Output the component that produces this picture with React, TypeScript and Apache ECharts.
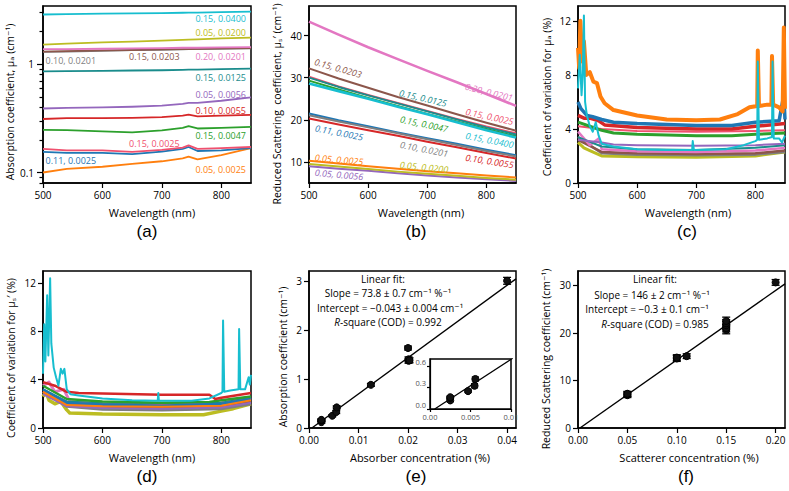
import React, { useEffect, useRef } from "react";
import * as echarts from "echarts";

// ---------- samples (scatterer %, absorber %) ----------
const SAMPLE_LABELS = [
  "0.05, 0.0025", "0.11, 0.0025", "0.15, 0.0025", "0.15, 0.0047",
  "0.10, 0.0055", "0.05, 0.0056", "0.15, 0.0125", "0.10, 0.0201",
  "0.15, 0.0203", "0.20, 0.0201", "0.05, 0.0200", "0.15, 0.0400",
];
const SAMPLE_COLORS = [
  "#ff7f0e", "#1f77b4", "#f0506e", "#2ca02c", "#d62728", "#9467bd",
  "#1a8c8c", "#7f7f7f", "#8c564b", "#e377c2", "#bcbd22", "#17becf",
];

// ---------- (a) absorption spectra, mu_a (cm^-1) ----------
const A_WL = [500, 540, 600, 650, 700, 735, 745, 760, 800, 850];
const MUA_05_0025 = [0.100, 0.108, 0.113, 0.120, 0.127, 0.135, 0.140, 0.132, 0.145, 0.168];
const MUA_11_0025 = [0.155, 0.152, 0.152, 0.148, 0.156, 0.165, 0.172, 0.158, 0.160, 0.168];
const MUA_15_0025 = [0.165, 0.160, 0.160, 0.155, 0.162, 0.170, 0.178, 0.165, 0.168, 0.172];
const MUA_15_0047 = [0.248, 0.246, 0.240, 0.235, 0.245, 0.258, 0.268, 0.255, 0.258, 0.264];
const MUA_10_0055 = [0.312, 0.318, 0.318, 0.320, 0.325, 0.335, 0.342, 0.330, 0.335, 0.340];
const MUA_05_0056 = [0.390, 0.395, 0.400, 0.405, 0.415, 0.430, 0.440, 0.440, 0.460, 0.495];
const MUA_15_0125 = [0.860, 0.865, 0.870, 0.875, 0.880, 0.888, 0.890, 0.890, 0.900, 0.912];
const MUA_10_0201 = [1.30, 1.31, 1.33, 1.35, 1.36, 1.37, 1.38, 1.38, 1.39, 1.40];
const MUA_15_0203 = [1.31, 1.32, 1.34, 1.35, 1.37, 1.38, 1.38, 1.39, 1.40, 1.41];
const MUA_20_0201 = [1.38, 1.38, 1.39, 1.40, 1.41, 1.42, 1.42, 1.42, 1.43, 1.44];
const MUA_05_0200 = [1.52, 1.55, 1.59, 1.62, 1.65, 1.68, 1.69, 1.70, 1.73, 1.76];
const MUA_15_0400 = [2.88, 2.90, 2.93, 2.95, 2.97, 2.99, 3.00, 3.00, 3.03, 3.06];
const MUA_SPECTRA = [
  MUA_05_0025, MUA_11_0025, MUA_15_0025, MUA_15_0047, MUA_10_0055, MUA_05_0056,
  MUA_15_0125, MUA_10_0201, MUA_15_0203, MUA_20_0201, MUA_05_0200, MUA_15_0400,
];

// ---------- (b) reduced scattering spectra, mu_s' (cm^-1) ----------
const B_WL = [500, 550, 600, 650, 700, 750, 800, 850];
const MUS_05_0025 = [10.3, 9.6, 9.0, 8.4, 7.8, 7.3, 6.8, 6.3];
const MUS_11_0025 = [21.5, 19.9, 18.5, 17.0, 15.6, 14.3, 12.9, 11.6];
const MUS_15_0025 = [30.2, 27.9, 25.9, 24.0, 22.1, 20.2, 18.4, 16.8];
const MUS_15_0047 = [29.3, 27.2, 25.2, 23.3, 21.4, 19.6, 17.8, 16.1];
const MUS_10_0055 = [20.3, 18.9, 17.5, 16.2, 14.8, 13.5, 12.1, 10.8];
const MUS_05_0056 = [9.0, 8.4, 7.9, 7.3, 6.8, 6.3, 5.9, 5.5];
const MUS_15_0125 = [30.0, 27.8, 25.8, 23.9, 22.0, 20.1, 18.2, 16.5];
const MUS_10_0201 = [21.1, 19.6, 18.2, 16.8, 15.4, 14.0, 12.6, 11.3];
const MUS_15_0203 = [32.2, 29.8, 27.6, 25.4, 23.4, 21.3, 19.3, 17.4];
const MUS_20_0201 = [43.3, 40.2, 37.2, 34.4, 31.6, 28.9, 26.1, 23.3];
const MUS_05_0200 = [9.5, 8.9, 8.3, 7.7, 7.2, 6.7, 6.2, 5.8];
const MUS_15_0400 = [28.6, 26.8, 25.0, 23.1, 21.3, 19.4, 17.5, 15.8];
const MUS_SPECTRA = [
  MUS_05_0025, MUS_11_0025, MUS_15_0025, MUS_15_0047, MUS_10_0055, MUS_05_0056,
  MUS_15_0125, MUS_10_0201, MUS_15_0203, MUS_20_0201, MUS_05_0200, MUS_15_0400,
];

// ---------- (c) CV of mu_a (%) : [wavelength, CV] ----------
const CVA_05_0025 = [[500,10],[502,8.5],[504,12],[507,9],[510,10.5],[514,8],[520,8.2],[526,7.5],[532,7.4],[538,6.4],[545,5.9],[560,5.4],[600,5.0],[650,4.7],[700,4.65],[740,4.7],[770,5.1],[790,5.6],[803,5.7],[804,9.8],[806,5.7],[820,5.8],[827,5.8],[828,9.4],[830,5.8],[840,5.6],[846,5.3],[848,11.5],[850,5.5]];
const CVA_11_0025 = [[500,6],[505,5.5],[515,5.0],[525,4.9],[540,4.7],[560,4.5],[600,4.4],[700,4.25],[760,4.25],[800,4.5],[840,4.6],[848,6.5],[850,4.7]];
const CVA_15_0025 = [[500,4.2],[540,4.0],[600,3.85],[700,3.8],[800,3.85],[850,3.9]];
const CVA_15_0047 = [[500,4.5],[520,4.2],[540,3.9],[560,3.7],[600,3.6],[700,3.5],[760,3.5],[800,3.6],[850,3.7]];
const CVA_10_0055 = [[500,5],[510,4.8],[520,4.8],[535,4.6],[545,4.3],[600,4.1],[700,4.0],[760,4.0],[800,4.2],[850,4.4]];
const CVA_05_0056 = [[500,3.2],[540,3.0],[560,2.85],[600,2.8],[700,2.75],[800,2.8],[850,2.9]];
const CVA_15_0125 = [[500,3.4],[540,2.7],[600,2.5],[700,2.45],[800,2.6],[850,2.8]];
const CVA_10_0201 = [[500,3.4],[540,2.2],[600,2.1],[700,2.05],[800,2.1],[850,2.3]];
const CVA_15_0203 = [[500,3.2],[540,2.3],[600,2.2],[700,2.15],[800,2.2],[850,2.4]];
const CVA_20_0201 = [[500,3.8],[510,3.3],[520,2.8],[535,3.3],[540,2.5],[600,2.35],[700,2.3],[800,2.4],[850,2.6]];
const CVA_05_0200 = [[500,3.0],[510,2.6],[520,2.4],[540,2.0],[600,1.95],[700,1.9],[800,2.0],[850,2.3]];
const CVA_15_0400 = [[500,7],[503,9.5],[506,6.5],[508,8],[510,12.4],[512,6],[515,5],[520,4.2],[525,3.8],[530,4.5],[535,3.5],[540,2.9],[550,2.8],[560,2.7],[600,2.5],[650,2.45],[693,2.45],[694,3.1],[696,2.45],[750,2.5],[780,2.8],[800,3.1],[803,3.2],[804,9.0],[806,3.2],[820,3.3],[828,3.4],[829,9.0],[831,3.3],[840,3.3],[845,3.0],[850,3.5]];
const CVA = [
  CVA_05_0025, CVA_11_0025, CVA_15_0025, CVA_15_0047, CVA_10_0055, CVA_05_0056,
  CVA_15_0125, CVA_10_0201, CVA_15_0203, CVA_20_0201, CVA_05_0200, CVA_15_0400,
];

// ---------- (d) CV of mu_s' (%) ----------
const CVS_05_0025 = [[500,3.0],[540,1.9],[600,1.8],[700,1.75],[800,1.85],[850,2.3]];
const CVS_11_0025 = [[500,3.2],[540,2.1],[600,1.95],[700,1.85],[800,2.0],[850,2.4]];
const CVS_15_0025 = [[500,3.1],[540,2.1],[600,1.95],[700,1.9],[800,2.0],[850,2.4]];
const CVS_15_0047 = [[500,3.5],[540,2.4],[600,2.2],[700,2.1],[780,2.15],[800,2.3],[850,2.6]];
const CVS_10_0055 = [[500,3.8],[520,3.5],[540,3.0],[560,2.9],[600,2.85],[700,2.75],[780,2.75],[790,2.4],[800,2.5],[850,2.9]];
const CVS_05_0056 = [[500,2.8],[540,1.8],[600,1.65],[700,1.6],[800,1.7],[850,2.1]];
const CVS_15_0125 = [[500,3.2],[540,2.2],[600,2.05],[700,2.0],[800,2.1],[850,2.5]];
const CVS_10_0201 = [[500,3.0],[540,1.8],[600,1.55],[700,1.5],[800,1.6],[850,2.0]];
const CVS_15_0203 = [[500,3.0],[540,2.0],[600,1.8],[700,1.7],[800,1.8],[850,2.2]];
const CVS_20_0201 = [[500,3.5],[510,3.8],[520,3.0],[535,3.2],[545,2.2],[600,2.0],[700,1.9],[780,1.95],[800,2.1],[850,2.5]];
const CVS_05_0200 = [[500,2.6],[505,3.0],[510,2.3],[520,2.0],[530,2.2],[540,1.5],[545,1.25],[600,1.15],[700,1.1],[770,1.1],[800,1.4],[820,1.6],[850,2.0]];
const CVS_15_0400 = [[500,4.5],[502,8.6],[504,5.5],[507,11],[509,6],[512,12.4],[514,7],[518,5],[522,4.2],[526,3.5],[530,4.9],[533,4.5],[536,4.9],[540,3.2],[546,2.8],[560,2.7],[600,2.45],[650,2.3],[693,2.25],[694,2.9],[695,2.25],[750,2.25],[780,2.45],[800,2.9],[802,3.0],[803,8.9],[805,3.0],[815,3.1],[829,3.2],[830,8.2],[832,3.2],[840,3.2],[846,4.2],[848,3.6],[850,4.4]];
const CVS = [
  CVS_05_0025, CVS_11_0025, CVS_15_0025, CVS_15_0047, CVS_10_0055, CVS_05_0056,
  CVS_15_0125, CVS_10_0201, CVS_15_0203, CVS_20_0201, CVS_05_0200, CVS_15_0400,
];

// ---------- (e) absorption coefficient vs absorber concentration ----------
const E_CONC = [0.0025, 0.0025, 0.0025, 0.0047, 0.0055, 0.0056, 0.0125, 0.0200, 0.0201, 0.0201, 0.0203, 0.0400];
const E_MUA = [0.12, 0.155, 0.165, 0.25, 0.325, 0.42, 0.88, 1.63, 1.37, 1.40, 1.38, 3.00];
const E_ERR = [0.02, 0.02, 0.02, 0.02, 0.03, 0.03, 0.03, 0.04, 0.05, 0.05, 0.05, 0.07];
const E_FIT = [[0.00058, 0], [0.0418, 3.04]];
const E_TEXT = ["Linear fit:", "Slope = 73.8 ± 0.7 cm⁻¹ %⁻¹", "Intercept = −0.043 ± 0.004 cm⁻¹", "{i|R}-square (COD) = 0.992"];

// ---------- (f) reduced scattering vs scatterer concentration ----------
const F_CONC = [0.05, 0.05, 0.05, 0.10, 0.10, 0.11, 0.15, 0.15, 0.15, 0.15, 0.15, 0.20];
const F_MUS = [6.9, 7.1, 7.2, 14.6, 14.8, 15.1, 20.6, 21.0, 21.6, 22.0, 22.5, 30.6];
const F_ERR = [0.5, 0.5, 0.5, 0.6, 0.6, 0.5, 0.8, 0.8, 0.8, 0.8, 0.8, 0.6];
const F_FIT = [[0.002, 0], [0.2095, 30.3]];
const F_TEXT = ["Linear fit:", "Slope = 146 ± 2 cm⁻¹ %⁻¹", "Intercept = −0.3 ± 0.1 cm⁻¹", "{i|R}-square (COD) = 0.985"];

// ---------- ticks ----------
const WL_TICKS = [500, 600, 700, 800];
const A_Y_TICKS = [0.1, 1];
const A_Y_TICK_LABELS = ["0.1", "1"];
const A_Y_MINOR = [0.08, 0.09, 0.2, 0.3, 0.4, 0.5, 0.6, 0.7, 0.8, 0.9, 2, 3];
const B_Y_TICKS = [10, 20, 30, 40];
const CV_TICKS = [0, 4, 8, 12];
const E_X_TICKS = [0, 0.01, 0.02, 0.03, 0.04];
const E_X_LABELS = ["0.00", "0.01", "0.02", "0.03", "0.04"];
const E_Y_TICKS = [0, 1, 2, 3];
const F_X_TICKS = [0, 0.05, 0.1, 0.15, 0.2];
const F_X_LABELS = ["0.00", "0.05", "0.10", "0.15", "0.20"];
const F_Y_TICKS = [0, 10, 20, 30];
const IN_X_TICKS = [0, 0.005, 0.01];
const IN_X_LABELS = ["0.00", "0.005", "0.01"];
const IN_Y_TICKS = [0, 0.3, 0.6];
const IN_Y_LABELS = ["0.0", "0.3", "0.6"];

// ---------- layout / style ----------
const FONT = "'Open Sans', 'DejaVu Sans', sans-serif";
const A_LABEL_POS: [number, number, string][] = [
  [246, 169.5, "right"], [45.5, 160, "left"], [129, 143.5, "left"], [246, 135, "right"],
  [246, 110, "right"], [246, 94, "right"], [246, 77.5, "right"], [45.5, 60.5, "left"],
  [129, 56.5, "left"], [246, 56.5, "right"], [246, 32.5, "right"], [246, 18.5, "right"],
];
const B_LABEL_POS: [number, number, number][] = [
  [339, 159.5, 5], [339, 132.5, 11], [489.5, 116.5, 12], [424, 124, 12],
  [489.5, 161, 9], [339, 174.5, 5], [423, 98, 13], [424, 149, 11],
  [338, 68, 16], [489, 92, 14], [424, 167, 6], [489.5, 140, 11],
];
const C_WIDTH = [4, 3.5, 2, 3, 3.5, 2, 2, 2.5, 2.5, 2.5, 3, 2];
const D_WIDTH = [2, 2.5, 2, 2.5, 2.5, 2, 2, 3, 3, 3, 3.5, 2];
const CD_ORDER = [10, 7, 8, 9, 6, 5, 2, 3, 4, 1, 0, 11];

function lookup(ticks: number[], labels: string[]) {
  return (v: number) => {
    let best = 0;
    for (let i = 1; i < ticks.length; i++) if (Math.abs(ticks[i] - v) < Math.abs(ticks[best] - v)) best = i;
    return labels[best];
  };
}

function axis(kind: "x" | "y", grid: number, min: number, max: number, ticks: number[], fmt?: (v: number) => string, small = false) {
  return {
    type: "value",
    gridIndex: grid,
    position: kind === "x" ? "bottom" : "left",
    min, max,
    axisLine: { show: true, onZero: false, lineStyle: { color: "#000", width: small ? 1.2 : 1.5 } },
    axisTick: { show: true, inside: false, length: small ? 3 : 5, customValues: ticks, lineStyle: { color: "#000", width: 1.2 } },
    axisLabel: {
      show: true, customValues: ticks, formatter: fmt,
      color: small ? "#555" : "#000", fontSize: small ? 7.5 : 10, fontFamily: FONT,
      margin: small ? (kind === "x" ? 4 : 4) : 7,
    },
    splitLine: { show: false },
    minorTick: { show: false },
  };
}

function lineSeries(xi: number, yi: number, data: number[][], color: string, width: number) {
  return {
    type: "line", xAxisIndex: xi, yAxisIndex: yi, data, symbol: "none", showSymbol: false,
    silent: true, clip: true, lineStyle: { color, width, join: "round" }, z: 2,
  };
}

function errorBars(xi: number, yi: number, xs: number[], ys: number[], errs: number[], cap: number) {
  return {
    type: "custom", xAxisIndex: xi, yAxisIndex: yi, silent: true, clip: true, z: 4,
    data: xs.map((x, i) => [x, ys[i] - errs[i], ys[i] + errs[i]]),
    encode: { x: 0, y: [1, 2] },
    renderItem: (_p: any, api: any) => {
      const a = api.coord([api.value(0), api.value(1)]);
      const b = api.coord([api.value(0), api.value(2)]);
      const st = { stroke: "#000", lineWidth: 1.3 };
      return {
        type: "group",
        children: [
          { type: "line", shape: { x1: a[0], y1: a[1], x2: b[0], y2: b[1] }, style: st },
          { type: "line", shape: { x1: a[0] - cap, y1: a[1], x2: a[0] + cap, y2: a[1] }, style: st },
          { type: "line", shape: { x1: b[0] - cap, y1: b[1], x2: b[0] + cap, y2: b[1] }, style: st },
        ],
      };
    },
  };
}

function scatter(xi: number, yi: number, xs: number[], ys: number[], size: number) {
  return {
    type: "scatter", xAxisIndex: xi, yAxisIndex: yi, silent: true, clip: true, z: 5,
    symbol: "circle", symbolSize: size,
    data: xs.map((x, i) => [x, ys[i]]),
    itemStyle: { color: "#111", borderColor: "#000", borderWidth: 1, opacity: 1 },
  };
}

function txt(x: number, y: number, text: string, opts: any = {}) {
  const { rotation = 0, ...style } = opts;
  return {
    type: "text", x, y, rotation, silent: true, z: 100,
    style: { text, fill: "#000", fontFamily: FONT, fontSize: 11, align: "center", verticalAlign: "middle", ...style },
  };
}

function buildOption() {
  const gridBase = { show: true, borderColor: "#000", borderWidth: 1.5, backgroundColor: "#fff", containLabel: false, outerBoundsMode: "none" };
  const grids = [
    { left: 43, top: 6, width: 208, height: 177 },
    { left: 309, top: 6, width: 207, height: 177 },
    { left: 578, top: 6, width: 207, height: 177 },
    { left: 43, top: 271, width: 208, height: 157 },
    { left: 309, top: 271, width: 207, height: 157 },
    { left: 578, top: 271, width: 207, height: 157 },
    { left: 430, top: 359, width: 81, height: 50 },
  ].map((g) => ({ ...gridBase, ...g }));

  const l10 = (v: number) => Math.log10(v);
  const xAxes = [
    axis("x", 0, 500, 850, WL_TICKS),
    axis("x", 1, 500, 850, WL_TICKS),
    axis("x", 2, 500, 850, WL_TICKS),
    axis("x", 3, 500, 850, WL_TICKS),
    axis("x", 4, 0, 0.0418, E_X_TICKS, lookup(E_X_TICKS, E_X_LABELS)),
    axis("x", 5, 0, 0.2095, F_X_TICKS, lookup(F_X_TICKS, F_X_LABELS)),
    axis("x", 6, 0, 0.01, IN_X_TICKS, lookup(IN_X_TICKS, IN_X_LABELS), true),
  ];
  const aMajor = A_Y_TICKS.map(l10);
  const yA: any = axis("y", 0, l10(0.08), l10(3.45), aMajor, lookup(aMajor, A_Y_TICK_LABELS));
  yA.axisTick.length = 6;
  yA.axisLabel.margin = 9;
  const yAminor: any = axis("y", 0, l10(0.08), l10(3.45), A_Y_MINOR.map(l10));
  yAminor.axisLine = { show: false };
  yAminor.axisLabel = { show: false };
  yAminor.axisTick.length = 3.5;
  yAminor.offset = 0;
  const yIn: any = axis("y", 6, 0, 0.7, IN_Y_TICKS, lookup(IN_Y_TICKS, IN_Y_LABELS), true);
  yIn.axisLabel.verticalAlign = "bottom";
  yIn.axisLabel.lineHeight = 9;
  const yAxes = [
    yA,
    axis("y", 1, 5, 47, B_Y_TICKS),
    axis("y", 2, 0, 13.1, CV_TICKS),
    axis("y", 3, 0, 13, CV_TICKS),
    axis("y", 4, 0, 3.2, E_Y_TICKS),
    axis("y", 5, 0, 33, F_Y_TICKS),
    yIn,
    yAminor,
  ];

  const series: any[] = [];
  // (a)
  MUA_SPECTRA.forEach((arr, i) => {
    series.push(lineSeries(0, 0, A_WL.map((w, k) => [w, l10(arr[k])]), SAMPLE_COLORS[i], 1.8));
  });
  // (b)
  MUS_SPECTRA.forEach((arr, i) => {
    series.push(lineSeries(1, 1, B_WL.map((w, k) => [w, arr[k]]), SAMPLE_COLORS[i], i === 9 || i === 11 ? 2.6 : 2));
  });
  // (c), (d)
  CD_ORDER.forEach((i) => {
    series.push(lineSeries(2, 2, CVA[i], SAMPLE_COLORS[i], C_WIDTH[i]));
  });
  CD_ORDER.forEach((i) => {
    series.push(lineSeries(3, 3, CVS[i], SAMPLE_COLORS[i], D_WIDTH[i]));
  });
  // (e)
  series.push({ ...lineSeries(4, 4, E_FIT, "#000", 1.4), z: 3 });
  series.push(errorBars(4, 4, E_CONC, E_MUA, E_ERR, 4));
  series.push(scatter(4, 4, E_CONC, E_MUA, 7));
  // inset
  const inIdx = E_CONC.map((c, i) => i).filter((i) => E_CONC[i] <= 0.01);
  series.push({ ...lineSeries(6, 6, E_FIT, "#000", 1.3), z: 3 });
  series.push(errorBars(6, 6, inIdx.map((i) => E_CONC[i]), inIdx.map((i) => E_MUA[i]), inIdx.map((i) => E_ERR[i]), 3.5));
  series.push(scatter(6, 6, inIdx.map((i) => E_CONC[i]), inIdx.map((i) => E_MUA[i]), 7));
  // (f)
  series.push({ ...lineSeries(5, 5, F_FIT, "#000", 1.4), z: 3 });
  series.push(errorBars(5, 5, F_CONC, F_MUS, F_ERR, 4));
  series.push(scatter(5, 5, F_CONC, F_MUS, 7));

  const graphics: any[] = [];
  // (a) sample labels
  SAMPLE_LABELS.forEach((t, i) => {
    const [x, y, al] = A_LABEL_POS[i];
    graphics.push(txt(x, y, t, { fill: SAMPLE_COLORS[i], fontSize: 9, align: al }));
  });
  // (b) sample labels (italic, tilted)
  SAMPLE_LABELS.forEach((t, i) => {
    const [x, y, ang] = B_LABEL_POS[i];
    graphics.push(txt(x, y, t, { fill: SAMPLE_COLORS[i], fontSize: 9, fontStyle: "italic", rotation: (-ang * Math.PI) / 180 }));
  });
  // fit annotations
  const eY = [278.5, 293, 307.5, 322];
  const eX = [383, 388, 390, 388];
  const fY = [278.5, 294.5, 309, 323.5];
  const fX = [655, 652, 647, 655];
  const rich = { i: { fontStyle: "italic", fontSize: 10, fontFamily: FONT, fill: "#000" } };
  E_TEXT.forEach((t, k) => graphics.push(txt(eX[k], eY[k], t, { fontSize: 10, rich })));
  F_TEXT.forEach((t, k) => graphics.push(txt(fX[k], fY[k], t, { fontSize: 10, rich })));
  // axis titles
  const R = -Math.PI / 2;
  graphics.push(txt(10, 102, "Absorption coefficient, μₐ (cm⁻¹)", { rotation: -R, fontSize: 10.5 }));
  graphics.push(txt(277, 104, "Reduced Scattering  coefficient, μₛ′ (cm⁻¹)", { rotation: -R, fontSize: 10.5 }));
  graphics.push(txt(547, 97, "Coefficient of variation for μₐ (%)", { rotation: -R, fontSize: 10.5 }));
  graphics.push(txt(11, 358, "Coefficient of variation for μₛ′ (%)", { rotation: -R, fontSize: 10.5 }));
  graphics.push(txt(283, 357, "Absorption coefficient (cm⁻¹)", { rotation: -R, fontSize: 10.5 }));
  graphics.push(txt(546, 359, "Reduced Scattering coefficient (cm⁻¹)", { rotation: -R, fontSize: 10.5 }));
  graphics.push(txt(152, 212, "Wavelength (nm)"));
  graphics.push(txt(421, 212, "Wavelength (nm)"));
  graphics.push(txt(688, 212, "Wavelength (nm)"));
  graphics.push(txt(152, 457, "Wavelength (nm)"));
  graphics.push(txt(420, 457, "Absorber concentration (%)"));
  graphics.push(txt(689, 457, "Scatterer concentration (%)"));
  // panel letters
  const PF = "'Liberation Sans', Arial, sans-serif";
  graphics.push(txt(147, 231, "(a)", { fontSize: 17, fontFamily: PF }));
  graphics.push(txt(416, 231, "(b)", { fontSize: 17, fontFamily: PF }));
  graphics.push(txt(687, 231, "(c)", { fontSize: 17, fontFamily: PF }));
  graphics.push(txt(147, 476, "(d)", { fontSize: 17, fontFamily: PF }));
  graphics.push(txt(416, 476, "(e)", { fontSize: 17, fontFamily: PF }));
  graphics.push(txt(686, 476, "(f)", { fontSize: 17, fontFamily: PF }));

  return {
    animation: false,
    backgroundColor: "#fff",
    grid: grids,
    xAxis: xAxes,
    yAxis: yAxes,
    series,
    graphic: graphics,
  };
}

export default function App() {
  const ref = useRef<HTMLDivElement>(null);
  useEffect(() => {
    const chart = echarts.init(ref.current as HTMLDivElement, null, { renderer: "svg" });
    chart.setOption(buildOption() as any);
    return () => chart.dispose();
  }, []);
  return (
    <div
      ref={ref}
      style={{ position: "absolute", left: 0, top: 0, width: 789, height: 491, background: "#fff" }}
    />
  );
}
